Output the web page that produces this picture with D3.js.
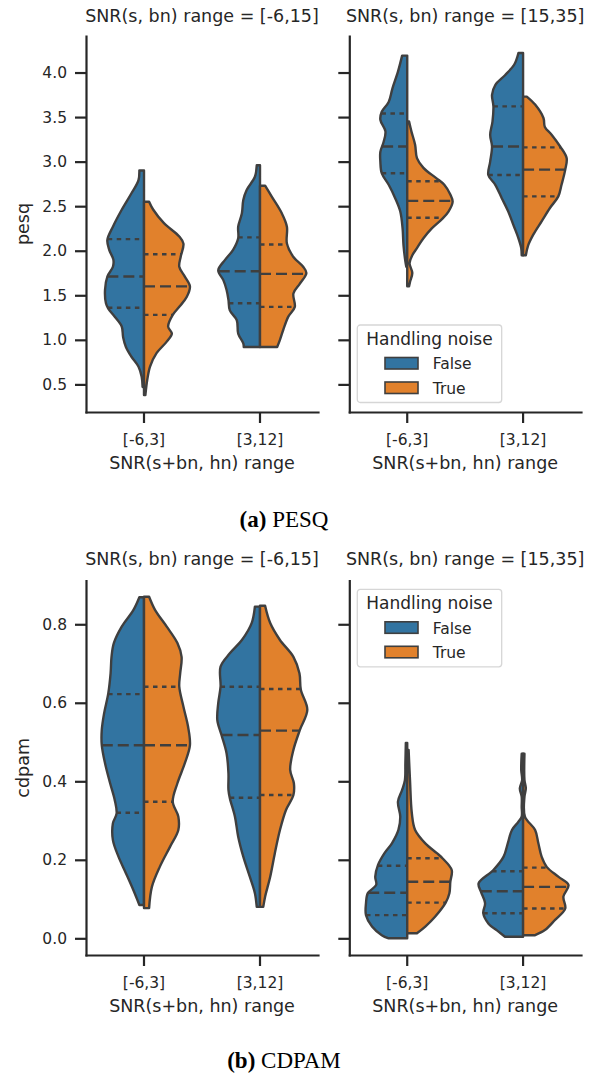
<!DOCTYPE html>
<html>
<head>
<meta charset="utf-8">
<script src="https://cdn.jsdelivr.net/npm/d3@7"></script>
<style>
  body { margin: 0; background: #fff; }
  svg text { font-family: "DejaVu Sans", sans-serif; }
</style>
</head>
<body>
<div id="chart"></div>
<script>
// categories / labels
const categories = ["[-6,3]", "[3,12]"];
const hueLevels = ["False", "True"];
const facetTitles = ["SNR(s, bn) range = [-6,15]", "SNR(s, bn) range = [15,35]"];
const xLabel = "SNR(s+bn, hn) range";
const legendTitle = "Handling noise";
const pesqTicks = [0.5, 1.0, 1.5, 2.0, 2.5, 3.0, 3.5, 4.0];
const cdpamTicks = [0.0, 0.2, 0.4, 0.6, 0.8];
const pesqDomain = [0.19, 4.41];
const cdpamDomain = [-0.0425, 0.911];

// violin half profiles: [value, relative density]
// PESQ, SNR(s, bn) in [-6,15]
const pesqLo_m6_False = [[2.90,0.10],[2.79,0.12],[2.645,0.27],[2.46,0.48],[2.27,0.67],[2.12,0.79],[2.01,0.75],[1.90,0.66],[1.82,0.67],[1.71,0.79],[1.56,0.84],[1.41,0.82],[1.35,0.77],[1.26,0.63],[1.15,0.48],[1.03,0.45],[0.92,0.39],[0.81,0.27],[0.70,0.12],[0.585,0.05],[0.47,0.03]];
const pesqLo_m6_True = [[2.55,0.11],[2.46,0.20],[2.31,0.43],[2.16,0.76],[2.08,0.85],[1.93,0.79],[1.82,0.76],[1.71,0.88],[1.60,0.99],[1.48,0.92],[1.37,0.76],[1.28,0.62],[1.15,0.52],[1.07,0.60],[0.98,0.49],[0.85,0.27],[0.70,0.13],[0.55,0.07],[0.38,0.03]];
const pesqLo_3_False = [[2.96,0.07],[2.83,0.11],[2.68,0.29],[2.57,0.36],[2.42,0.39],[2.27,0.47],[2.14,0.47],[2.01,0.58],[1.90,0.75],[1.78,0.90],[1.67,0.79],[1.56,0.72],[1.45,0.68],[1.33,0.65],[1.22,0.50],[1.07,0.47],[0.96,0.36],[0.92,0.35]];
const pesqLo_3_True = [[2.73,0.11],[2.61,0.25],[2.42,0.47],[2.27,0.58],[2.08,0.58],[1.93,0.72],[1.82,0.93],[1.75,1.0],[1.63,0.86],[1.52,0.72],[1.37,0.75],[1.26,0.61],[1.11,0.50],[1.00,0.43],[0.92,0.37]];
const pesqLoQuartiles = [[1.36,1.71,2.13],[1.28,1.60,1.96],[1.41,1.77,2.15],[1.37,1.74,2.07]];

// PESQ, SNR(s, bn) in [15,35]
const pesqHi_m6_False = [[4.19,0.11],[4.01,0.20],[3.82,0.32],[3.67,0.40],[3.56,0.55],[3.47,0.58],[3.34,0.47],[3.22,0.51],[3.11,0.58],[3.00,0.58],[2.87,0.55],[2.74,0.40],[2.59,0.26],[2.44,0.15],[2.25,0.10],[2.06,0.08],[1.88,0.04],[1.82,0.02]];
const pesqHi_m6_True = [[3.45,0.04],[3.34,0.09],[3.19,0.17],[3.04,0.21],[2.93,0.35],[2.81,0.64],[2.74,0.80],[2.63,0.93],[2.55,0.98],[2.44,0.89],[2.36,0.76],[2.25,0.53],[2.14,0.35],[2.03,0.21],[1.95,0.11],[1.86,0.05],[1.75,0.11],[1.65,0.06],[1.60,0.04]];
const pesqHi_3_False = [[4.22,0.10],[4.09,0.19],[3.97,0.39],[3.86,0.60],[3.75,0.67],[3.62,0.64],[3.45,0.66],[3.30,0.71],[3.17,0.67],[3.00,0.71],[2.85,0.75],[2.74,0.60],[2.59,0.46],[2.44,0.32],[2.29,0.21],[2.14,0.10],[2.03,0.04],[1.95,0.03]];
const pesqHi_3_True = [[3.73,0.08],[3.64,0.26],[3.49,0.44],[3.39,0.47],[3.30,0.62],[3.17,0.80],[3.04,0.94],[2.91,0.91],[2.74,0.83],[2.61,0.76],[2.48,0.58],[2.33,0.40],[2.18,0.22],[2.06,0.11],[1.95,0.06]];
const pesqHiQuartiles = [[2.87,3.17,3.54],[2.37,2.56,2.78],[2.85,3.17,3.62],[2.61,2.91,3.16]];

// CDPAM, SNR(s, bn) in [-6,15]
const cdpamLo_m6_False = [[0.869,0.10],[0.836,0.23],[0.794,0.48],[0.752,0.65],[0.717,0.70],[0.675,0.72],[0.624,0.77],[0.573,0.86],[0.531,0.91],[0.492,0.91],[0.446,0.84],[0.395,0.73],[0.352,0.63],[0.318,0.59],[0.293,0.67],[0.250,0.67],[0.208,0.55],[0.166,0.39],[0.123,0.23],[0.085,0.10]];
const cdpamLo_m6_True = [[0.870,0.11],[0.836,0.24],[0.794,0.49],[0.752,0.72],[0.717,0.81],[0.675,0.78],[0.641,0.76],[0.590,0.85],[0.539,0.95],[0.492,0.99],[0.446,0.88],[0.395,0.72],[0.348,0.62],[0.310,0.74],[0.276,0.74],[0.233,0.56],[0.182,0.34],[0.131,0.17],[0.077,0.11]];
const cdpamLo_3_False = [[0.845,0.11],[0.803,0.18],[0.760,0.39],[0.726,0.65],[0.692,0.85],[0.641,0.85],[0.599,0.90],[0.556,0.92],[0.518,0.83],[0.471,0.72],[0.420,0.68],[0.378,0.68],[0.357,0.65],[0.310,0.54],[0.259,0.47],[0.208,0.36],[0.157,0.22],[0.115,0.11],[0.080,0.07]];
const cdpamLo_3_True = [[0.847,0.11],[0.803,0.22],[0.760,0.43],[0.717,0.72],[0.675,0.85],[0.633,0.88],[0.582,1.02],[0.531,0.86],[0.480,0.72],[0.429,0.65],[0.395,0.73],[0.365,0.72],[0.327,0.56],[0.276,0.43],[0.217,0.32],[0.157,0.22],[0.106,0.11],[0.080,0.07]];
const cdpamLoQuartiles = [[0.320,0.492,0.622],[0.348,0.492,0.641],[0.358,0.518,0.641],[0.365,0.529,0.635]];

// CDPAM, SNR(s, bn) in [15,35]
const cdpamHi_m6_False = [[0.498,0.03],[0.446,0.04],[0.403,0.05],[0.378,0.11],[0.348,0.20],[0.310,0.15],[0.276,0.19],[0.242,0.33],[0.217,0.49],[0.187,0.63],[0.157,0.69],[0.136,0.67],[0.115,0.85],[0.089,0.89],[0.059,0.89],[0.030,0.76],[0.008,0.55],[0.0,0.40]];
const cdpamHi_m6_True = [[0.480,0.03],[0.403,0.06],[0.318,0.10],[0.276,0.17],[0.242,0.39],[0.217,0.64],[0.204,0.76],[0.174,0.96],[0.144,0.93],[0.115,0.91],[0.091,0.83],[0.055,0.60],[0.030,0.39],[0.013,0.21]];
const cdpamHi_3_False = [[0.470,0.03],[0.429,0.04],[0.403,0.02],[0.382,0.07],[0.361,0.03],[0.335,0.03],[0.310,0.03],[0.297,0.10],[0.276,0.24],[0.242,0.33],[0.208,0.42],[0.174,0.64],[0.140,0.96],[0.119,0.91],[0.089,0.82],[0.064,0.86],[0.038,0.75],[0.017,0.53],[0.004,0.39]];
const cdpamHi_3_True = [[0.470,0.03],[0.403,0.03],[0.382,0.06],[0.361,0.03],[0.310,0.04],[0.276,0.26],[0.242,0.33],[0.208,0.40],[0.182,0.51],[0.157,0.76],[0.136,0.98],[0.106,0.87],[0.076,0.91],[0.047,0.69],[0.021,0.47],[0.008,0.26]];
const cdpamHiQuartiles = [[0.059,0.116,0.185],[0.091,0.144,0.204],[0.064,0.120,0.171],[0.076,0.131,0.180]];

// layout
const width = 597, height = 1075;
const ink = "#262626";
const edge = "#3f3f3f";
const colors = d3.scaleOrdinal().domain(hueLevels).range(["#3274a1", "#e1812c"]);
const cols = [[86, 318], [349.3, 581]];

const rows = [
    { top: 36, bottom: 412, titleY: 22, yLabel: "pesq", ticks: pesqTicks, domain: pesqDomain, legendY: 325,
      caption: ["(a)", " PESQ"], captionY: 527,
      facets: [
          { profiles: [pesqLo_m6_False, pesqLo_m6_True, pesqLo_3_False, pesqLo_3_True], quartiles: pesqLoQuartiles },
          { profiles: [pesqHi_m6_False, pesqHi_m6_True, pesqHi_3_False, pesqHi_3_True], quartiles: pesqHiQuartiles }
      ] },
    { top: 580.7, bottom: 955, titleY: 565, yLabel: "cdpam", ticks: cdpamTicks, domain: cdpamDomain, legendY: 589.3,
      caption: ["(b)", " CDPAM"], captionY: 1068,
      facets: [
          { profiles: [cdpamLo_m6_False, cdpamLo_m6_True, cdpamLo_3_False, cdpamLo_3_True], quartiles: cdpamLoQuartiles },
          { profiles: [cdpamHi_m6_False, cdpamHi_m6_True, cdpamHi_3_False, cdpamHi_3_True], quartiles: cdpamHiQuartiles }
      ] }
];

const svg = d3.select("#chart")
    .append("svg")
    .attr("width", width)
    .attr("height", height);

rows.forEach(row => {
    const y = d3.scaleLinear().domain(row.domain).range([row.bottom, row.top]);

    row.facets.forEach((facet, c) => {
        const [x0, x1] = cols[c];
        const x = d3.scaleBand().domain(categories).range([x0, x1]);
        const half = d3.scaleLinear().domain([0, 1]).range([0, x.bandwidth() * 0.4]);
        const g = svg.append("g");

        categories.forEach((cat, ci) => {
            const cx = x(cat) + x.bandwidth() / 2;
            hueLevels.forEach((hue, hi) => {
                const prof = facet.profiles[ci * 2 + hi];
                const side = hi === 0 ? -1 : 1;
                const area = d3.area()
                    .curve(d3.curveCatmullRom.alpha(0.5))
                    .y(d => y(d[0]))
                    .x0(cx)
                    .x1(d => cx + side * half(d[1]));

                g.append("path")
                    .datum(prof)
                    .attr("d", area)
                    .attr("fill", colors(hue))
                    .attr("stroke", edge)
                    .attr("stroke-width", 2.4)
                    .attr("stroke-linejoin", "round");

                // quartile lines, as wide as the violin at that value
                const densityAt = d3.scaleLinear().domain(prof.map(d => d[0])).range(prof.map(d => d[1]));
                facet.quartiles[ci * 2 + hi].forEach((q, qi) => {
                    const w = half(densityAt(q));
                    const xs = side < 0 ? [cx - w, cx] : [cx, cx + w];
                    g.append("line")
                        .attr("x1", xs[0]).attr("x2", xs[1])
                        .attr("y1", y(q)).attr("y2", y(q))
                        .attr("stroke", edge)
                        .attr("stroke-width", 2.4)
                        .attr("stroke-dasharray", qi === 1 ? "11,5" : "4.5,4.5");
                });
            });
        });

        // axes
        const yAxis = svg.append("g")
            .attr("transform", `translate(${x0},0)`)
            .call(d3.axisLeft(y).tickValues(row.ticks).tickSize(11).tickSizeOuter(0).tickPadding(8)
                .tickFormat(c === 0 ? d3.format(".1f") : () => ""));
        const xAxis = svg.append("g")
            .attr("transform", `translate(0,${row.bottom})`)
            .call(d3.axisBottom(x).tickSize(11).tickSizeOuter(0).tickPadding(11));

        [yAxis, xAxis].forEach(a => {
            a.attr("font-family", "DejaVu Sans").attr("font-size", 15.5);
            a.select(".domain").attr("stroke", ink).attr("stroke-width", 2.2).attr("stroke-linecap", "square");
            a.selectAll(".tick line").attr("stroke", ink).attr("stroke-width", 2.2);
            a.selectAll(".tick text").attr("fill", ink);
        });

        svg.append("text")
            .attr("x", (x0 + x1) / 2)
            .attr("y", row.titleY)
            .attr("text-anchor", "middle")
            .attr("fill", ink)
            .style("font-size", "17.5px")
            .text(facetTitles[c]);

        svg.append("text")
            .attr("x", (x0 + x1) / 2)
            .attr("y", row.bottom + 57)
            .attr("text-anchor", "middle")
            .attr("fill", ink)
            .style("font-size", "17.5px")
            .text(xLabel);

        if (c === 0) {
            svg.append("text")
                .attr("transform", `translate(29,${(row.top + row.bottom) / 2}) rotate(-90)`)
                .attr("text-anchor", "middle")
                .attr("fill", ink)
                .style("font-size", "17.5px")
                .text(row.yLabel);
        } else {
            // legend
            const lg = svg.append("g").attr("transform", `translate(357.3,${row.legendY})`);
            lg.append("rect")
                .attr("width", 144.4).attr("height", 77.5)
                .attr("rx", 3)
                .attr("fill", "#fff").attr("fill-opacity", 0.8)
                .attr("stroke", "#cccccc").attr("stroke-opacity", 0.8)
                .attr("stroke-width", 1.3);
            lg.append("text")
                .attr("x", 72.2).attr("y", 20)
                .attr("text-anchor", "middle")
                .attr("fill", ink)
                .style("font-size", "17px")
                .text(legendTitle);
            hueLevels.forEach((hue, hi) => {
                const ry = 32.5 + hi * 24.5;
                lg.append("rect")
                    .attr("x", 27.7).attr("y", ry)
                    .attr("width", 33).attr("height", 11.5)
                    .attr("fill", colors(hue))
                    .attr("stroke", edge).attr("stroke-width", 1.6);
                lg.append("text")
                    .attr("x", 75.4).attr("y", ry + 11.8)
                    .attr("fill", ink)
                    .style("font-size", "15.5px")
                    .text(hue);
            });
        }
    });

    const cap = svg.append("text")
        .attr("x", 284)
        .attr("y", row.captionY)
        .attr("text-anchor", "middle")
        .attr("fill", "#000")
        .style("font-family", "'Liberation Serif', serif")
        .style("font-size", "23px");
    cap.append("tspan").attr("font-weight", "bold").text(row.caption[0]);
    cap.append("tspan").text(row.caption[1]);
});
</script>
</body>
</html>
